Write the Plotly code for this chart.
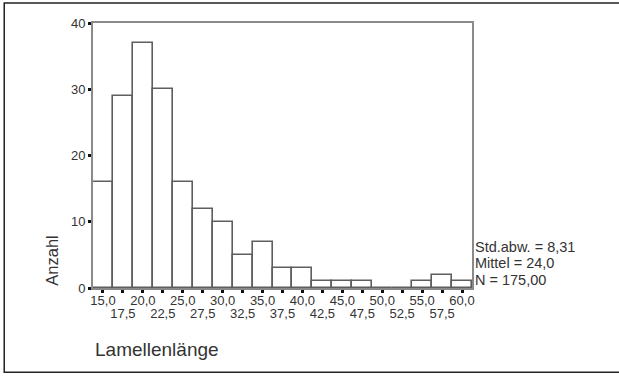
import plotly.graph_objects as go

# Data (bin centres, bin width 2.5)
bin_centers = [15.0, 17.5, 20.0, 22.5, 25.0, 27.5, 30.0, 32.5, 35.0, 37.5,
               40.0, 42.5, 45.0, 47.5, 50.0, 52.5, 55.0, 57.5, 60.0]
counts = [16, 29, 37, 30, 16, 12, 10, 5, 7, 3, 3, 1, 1, 1, 0, 0, 1, 2, 1]
bin_width = 2.5
tick_labels = ["15,0", "17,5", "20,0", "22,5", "25,0", "27,5", "30,0", "32,5",
               "35,0", "37,5", "40,0", "42,5", "45,0", "47,5", "50,0", "52,5",
               "55,0", "57,5", "60,0"]
y_ticks = [0, 10, 20, 30, 40]
stats_lines = ["Std.abw. = 8,31", "Mittel = 24,0", "N = 175,00"]
x_title = "Lamellenlänge"
y_title = "Anzahl"

FONT = "Liberation Sans, Arial, sans-serif"
TXT = "#333333"

x_range = [bin_centers[0] - bin_width / 2, bin_centers[-1] + bin_width / 2]
row2_vals = bin_centers[1::2]
row2_text = tick_labels[1::2]

fig = go.Figure()
fig.add_trace(go.Bar(
    x=bin_centers, y=counts, width=bin_width,
    marker=dict(color="white", line=dict(color="#5e5e5e", width=1.6)),
    showlegend=False, hoverinfo="skip",
))
# invisible helper trace so the second (label-row) axis is drawn
fig.add_trace(go.Scatter(
    x=[bin_centers[0]], y=[0], xaxis="x2", yaxis="y", mode="markers",
    marker=dict(opacity=0), showlegend=False, hoverinfo="skip",
))

fig.update_layout(
    width=619, height=376,
    margin=dict(l=93, r=147, t=23, b=88),
    paper_bgcolor="white", plot_bgcolor="white",
    font=dict(family=FONT, color=TXT, size=12),
    bargap=0,
    xaxis=dict(
        range=x_range,
        tickvals=bin_centers,
        ticktext=[t if i % 2 == 0 else "" for i, t in enumerate(tick_labels)],
        tickangle=0, ticklabelstandoff=-4,
        ticks="outside", ticklen=3, tickwidth=2.5, tickcolor="#111",
        showline=True, linecolor="#8a8a8a", linewidth=2, mirror=True,
        showgrid=False, zeroline=False,
        tickfont=dict(size=13, color=TXT),
        fixedrange=True,
    ),
    xaxis2=dict(
        range=x_range, overlaying="x", anchor="y", side="bottom",
        tickvals=row2_vals, ticktext=row2_text, tickangle=0,
        ticks="", ticklabelstandoff=16,
        showline=False, showgrid=False, zeroline=False,
        tickfont=dict(size=13, color=TXT),
        fixedrange=True,
    ),
    yaxis=dict(
        range=[0, 40], tickvals=y_ticks,
        ticks="outside", ticklen=3, tickwidth=2.5, tickcolor="#111",
        showline=True, linecolor="#8a8a8a", linewidth=2, mirror=True,
        showgrid=False, zeroline=False,
        tickfont=dict(size=13, color=TXT),
        fixedrange=True,
    ),
)

# statistics text at right of plot
for i, line in enumerate(stats_lines):
    fig.add_annotation(
        xref="paper", yref="paper", x=1.0, y=(288.5 - 247) / 265.5,
        xanchor="left", yanchor="middle", xshift=1, yshift=-16.5 * i,
        text=line, showarrow=False, font=dict(size=14.5, color=TXT),
    )

# axis titles
fig.add_annotation(
    xref="paper", yref="paper", x=(51 - 93) / 380, y=(288.5 - 261) / 265.5,
    xanchor="center", yanchor="middle", textangle=-90,
    text=y_title, showarrow=False, font=dict(size=16.5, color=TXT),
)
fig.add_annotation(
    xref="paper", yref="paper", x=0.0, y=(288.5 - 350) / 265.5,
    xanchor="left", yanchor="middle",
    text=x_title, showarrow=False, font=dict(size=19, color=TXT),
)

# outer frame
fig.add_shape(
    type="rect", xref="paper", yref="paper",
    x0=(4 - 93) / 380, x1=(640 - 93) / 380,
    y0=(288.5 - 373) / 265.5, y1=(288.5 - 3) / 265.5,
    line=dict(color="#222", width=1.5), fillcolor="rgba(0,0,0,0)",
    layer="below",
)

fig.write_html("out.html")
